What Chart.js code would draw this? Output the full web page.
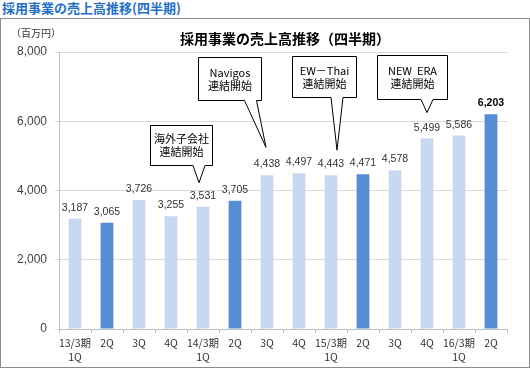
<!DOCTYPE html>
<html>
<head>
<meta charset="utf-8">
<script src="https://cdn.jsdelivr.net/npm/chart.js@4"></script>
<style>
  body { margin: 0; background: #fff; width: 530px; height: 369px; position: relative; overflow: hidden; }
  #pageTitle { position: absolute; left: 2px; top: 0px; font: bold 13px "Noto Sans CJK JP"; color: #1f6fc5; line-height: 16px; white-space: nowrap; }
  #frame { position: absolute; left: 0; top: 18px; width: 528px; height: 348px; border: 1px solid #8c8c8c; }
</style>
</head>
<body>
<div id="pageTitle">採用事業の売上高推移(四半期)</div>
<div id="frame"><canvas id="salesChart"></canvas></div>
<script>
// quarters (FY label on first quarter)
const categories = [['13/3期', '1Q'], '2Q', '3Q', '4Q', ['14/3期', '1Q'], '2Q', '3Q', '4Q',
  ['15/3期', '1Q'], '2Q', '3Q', '4Q', ['16/3期', '1Q'], '2Q'];
// 売上高 (百万円)
const sales = [3187, 3065, 3726, 3255, 3531, 3705, 4438, 4497, 4443, 4471, 4578, 5499, 5586, 6203];
// darker bars = 2Q
const highlighted = [1, 5, 9, 13];
const yTicks = [0, 2000, 4000, 6000, 8000];

const chartTitle = '採用事業の売上高推移（四半期）';
const unitLabel = '（百万円）';

const calloutIndex = [4, 6, 8, 11];
const calloutText = [['海外子会社', '連結開始'], ['Navigos', '連結開始'], ['EW－Thai', '連結開始'], ['NEW  ERA', '連結開始']];

// box layout for the callouts, relative to the bar top
const calloutLayout = [
  { tdx: -4, tdy: 24, dx: -18, rise: 18, w: 62, h: 40 },
  { tdx: -1, tdy: 28, dx: -36.5, rise: 47, w: 63, h: 43 },
  { tdx: 6, tdy: 25, dx: -13, rise: 53, w: 64, h: 41 },
  { tdx: 0, tdy: 26, dx: -15, rise: 14, w: 70, h: 44 }
];

const lightBlue = 'rgb(198,217,241)';
const darkBlue = 'rgb(85,142,213)';
const jpFont = '"Noto Sans CJK JP"';
const numFont = '"Liberation Sans", Arial';

const extras = {
  id: 'extras',
  afterDatasetsDraw(chart) {
    const ctx = chart.ctx;
    const area = chart.chartArea;
    const bars = chart.getDatasetMeta(0).data;
    ctx.save();

    // chart title + unit
    ctx.fillStyle = '#000';
    ctx.font = 'bold 14px ' + jpFont;
    ctx.textAlign = 'center';
    ctx.textBaseline = 'middle';
    ctx.fillText(chartTitle, (area.left + area.right) / 2 + 2, 20);
    ctx.font = '10px ' + jpFont;
    ctx.fillStyle = '#333';
    ctx.fillText(unitLabel, 35, 14);

    // value labels
    ctx.textBaseline = 'alphabetic';
    bars.forEach((bar, i) => {
      ctx.font = (i === sales.length - 1 ? 'bold ' : '') + '10.5px ' + numFont;
      ctx.fillStyle = i === sales.length - 1 ? '#000' : '#333';
      ctx.fillText(sales[i].toLocaleString('en-US'), bar.x, bar.y - 8);
    });

    // callouts
    calloutIndex.forEach((idx, k) => {
      const L = calloutLayout[k];
      const bar = bars[idx];
      const tipX = bar.x + L.tdx, tipY = bar.y - L.tdy;
      const cx = tipX + L.dx;
      const bottom = Math.round(tipY - L.rise) + 0.5;
      const top = bottom - L.h;
      const left = Math.round(cx - L.w / 2) + 0.5;
      const right = left + L.w;
      const baseC = Math.min(tipX, right - 11);
      ctx.beginPath();
      ctx.moveTo(left, top);
      ctx.lineTo(right, top);
      ctx.lineTo(right, bottom);
      ctx.lineTo(baseC + 6, bottom);
      ctx.lineTo(tipX, tipY);
      ctx.lineTo(baseC - 6, bottom);
      ctx.lineTo(left, bottom);
      ctx.closePath();
      ctx.fillStyle = '#fff';
      ctx.fill();
      ctx.strokeStyle = '#000';
      ctx.lineWidth = 1;
      ctx.stroke();
      ctx.fillStyle = '#000';
      ctx.font = '11px ' + jpFont;
      ctx.textBaseline = 'middle';
      const mid = (top + bottom) / 2;
      ctx.fillText(calloutText[k][0], (left + right) / 2, mid - 6.5);
      ctx.fillText(calloutText[k][1], (left + right) / 2, mid + 6.5);
    });
    ctx.restore();
  }
};

new Chart(document.getElementById('salesChart'), {
  type: 'bar',
  data: {
    labels: categories,
    datasets: [{
      data: sales,
      backgroundColor: sales.map((v, i) => highlighted.includes(i) ? darkBlue : lightBlue),
      barPercentage: 0.4,
      categoryPercentage: 1
    }]
  },
  options: {
    responsive: true,
    maintainAspectRatio: false,
    animation: false,
    locale: 'en-US',
    layout: { padding: { top: 33, right: 22, left: 0, bottom: 0 } },
    plugins: { legend: { display: false }, tooltip: { enabled: false }, title: { display: false } },
    scales: {
      x: {
        grid: { drawOnChartArea: false, drawTicks: true, tickLength: 4, color: '#bfbfbf', offset: true },
        border: { color: '#bfbfbf' },
        ticks: {
          maxRotation: 0, autoSkip: false, padding: 3, color: '#333',
          font: { family: jpFont, size: 10.5, lineHeight: 1.33 }
        },
        afterFit: s => { s.height = 38; }
      },
      y: {
        min: 0, max: 8000,
        afterBuildTicks: s => { s.ticks = yTicks.map(v => ({ value: v })); },
        grid: { color: '#d9d9d9', tickLength: 4 },
        border: { color: '#bfbfbf' },
        ticks: { padding: 8, color: '#404040', font: { family: numFont, size: 12 } },
        afterFit: s => { s.width = 58; }
      }
    }
  },
  plugins: [extras]
});
</script>
</body>
</html>
